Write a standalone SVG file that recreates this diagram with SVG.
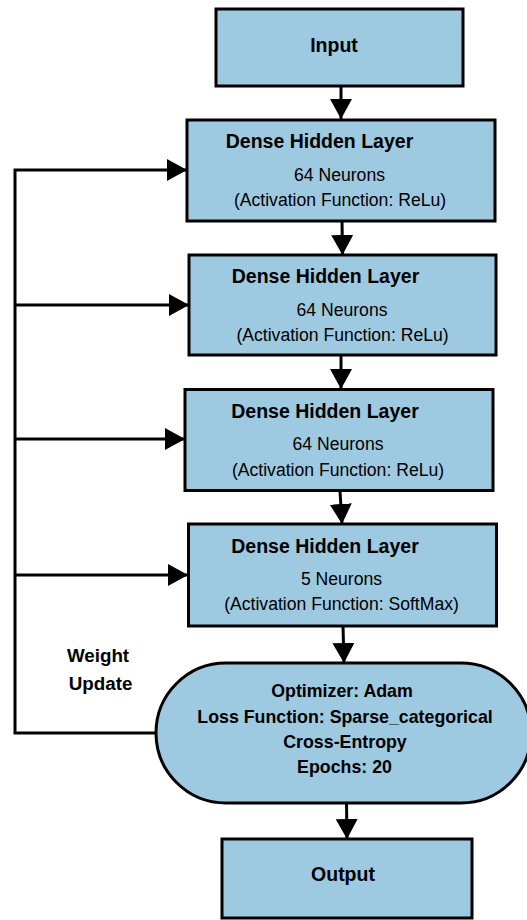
<svg xmlns="http://www.w3.org/2000/svg" width="527" height="920" viewBox="0 0 527 920">
  <style>
    .box { fill: #9ecae1; stroke: #000; stroke-width: 3; }
    .wire { fill: none; stroke: #000; stroke-width: 3; }
    .t { font-family: "Liberation Sans", Arial, sans-serif; fill: #000; text-anchor: middle; }
    .title { font-size: 19.5px; font-weight: bold; }
    .body { font-size: 17.6px; }
    .opt { font-size: 17.8px; font-weight: bold; }
  </style>
  <defs>
    <marker id="head" markerUnits="userSpaceOnUse" markerWidth="20" markerHeight="22" refX="20" refY="11" orient="auto">
      <path d="M0,0 L20,11 L0,22 z" fill="#000"/>
    </marker>
  </defs>

  <rect width="527" height="920" fill="#fff"/>

  <!-- connectors -->
  <g id="connectors">
    <line class="wire" x1="341" y1="86" x2="341" y2="119" marker-end="url(#head)"/>
    <line class="wire" x1="342" y1="221" x2="342.5" y2="255" marker-end="url(#head)"/>
    <line class="wire" x1="341" y1="355" x2="341" y2="389" marker-end="url(#head)"/>
    <line class="wire" x1="340" y1="491" x2="342" y2="524" marker-end="url(#head)"/>
    <line class="wire" x1="343" y1="626" x2="344" y2="663" marker-end="url(#head)"/>
    <line class="wire" x1="346.5" y1="803" x2="347" y2="839" marker-end="url(#head)"/>
    <!-- weight update feedback -->
    <polyline class="wire" points="157,733 15,733 15,170 187,170" marker-end="url(#head)"/>
    <line class="wire" x1="15" y1="305" x2="189" y2="305" marker-end="url(#head)"/>
    <line class="wire" x1="15" y1="439" x2="185" y2="439" marker-end="url(#head)"/>
    <line class="wire" x1="15" y1="575" x2="188" y2="575" marker-end="url(#head)"/>
  </g>

  <g id="input">
    <rect class="box" x="216" y="9" width="247" height="77"/>
    <text class="t title" x="334" y="52">Input</text>
  </g>

  <g id="layer1">
    <rect class="box" x="187" y="120" width="308" height="101"/>
    <text class="t title" x="319.5" y="148">Dense Hidden Layer</text>
    <text class="t body" x="339.5" y="181">64 Neurons</text>
    <text class="t body" x="340" y="206">(Activation Function: ReLu)</text>
  </g>

  <g id="layer2">
    <rect class="box" x="189" y="255" width="307" height="100"/>
    <text class="t title" x="325.5" y="283">Dense Hidden Layer</text>
    <text class="t body" x="342" y="316">64 Neurons</text>
    <text class="t body" x="342.5" y="341">(Activation Function: ReLu)</text>
  </g>

  <g id="layer3">
    <rect class="box" x="185" y="389.5" width="308" height="101"/>
    <text class="t title" x="325" y="418">Dense Hidden Layer</text>
    <text class="t body" x="338" y="450">64 Neurons</text>
    <text class="t body" x="338" y="476">(Activation Function: ReLu)</text>
  </g>

  <g id="layer4">
    <rect class="box" x="188.5" y="524" width="308" height="102"/>
    <text class="t title" x="325" y="553">Dense Hidden Layer</text>
    <text class="t body" x="341.5" y="585">5 Neurons</text>
    <text class="t body" x="341.5" y="610">(Activation Function: SoftMax)</text>
  </g>

  <g id="training">
    <rect class="box" x="156" y="663" width="375" height="140" rx="70" ry="70"/>
    <text class="t opt" x="342" y="697">Optimizer: Adam</text>
    <text class="t opt" x="345" y="723">Loss Function: Sparse_categorical</text>
    <text class="t opt" x="345" y="748">Cross-Entropy</text>
    <text class="t opt" x="344.5" y="773">Epochs: 20</text>
  </g>

  <g id="output">
    <rect class="box" x="222" y="839" width="250" height="79"/>
    <text class="t title" x="343" y="881">Output</text>
  </g>

  <g id="weight-update-label">
    <text class="t title" x="98" y="662" style="font-size:18.8px">Weight</text>
    <text class="t title" x="100.5" y="690" style="font-size:18.8px">Update</text>
  </g>
</svg>
